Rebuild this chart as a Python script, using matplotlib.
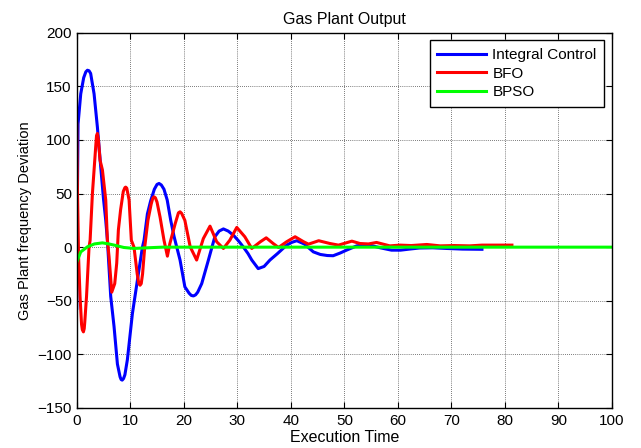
import matplotlib
matplotlib.use("Agg")
import matplotlib.pyplot as plt

plt.rcParams['font.family'] = ['Liberation Sans', 'DejaVu Sans']

# ---- data ----
blue_x = [0, 0.1, 0.25, 0.75, 1.3, 1.7, 2.0, 2.3, 2.6, 3.24, 3.86, 4.48, 5.0, 5.42, 5.73, 6.35, 6.97, 7.6,
          8.1, 8.3, 8.5, 8.75, 9.0, 9.46, 10.4, 11.33, 12.27, 12.58, 13.2, 13.8, 14.5, 15.0, 15.38, 15.8,
          16.3, 16.9, 17.56, 18.18, 19.3, 20.2, 21.0, 21.4, 21.8, 22.2, 22.6, 23.35, 24.6, 25.8, 26.6,
          27.4, 28.3, 29.3, 30.2, 31.1, 32.0, 32.7, 33.9, 35.0, 36.1, 37.5, 39.2, 40.2, 41.1, 42.5, 44.2,
          45.5, 46.8, 47.9, 49.2, 50.4, 52.3, 54.2, 56.7, 58.8, 60.5, 62.0, 64.0, 66.5, 69.0, 72.0, 75.7]
blue_y = [-57, 30, 115, 143, 158, 163.5, 165, 164.5, 162, 143, 112, 75, 45, 25, 6.5, -46, -74, -109,
          -121, -123.5, -124, -122.5, -119, -105, -62, -31, 0, 6.5, 31, 43, 54, 58.5, 59.4, 58,
          54, 44, 25, 10, -12, -37, -43, -45, -45.5, -44.5, -42, -34, -12, 9.7, 15,
          17, 15, 11, 6, 0.3, -6, -12, -20, -18, -12, -6, 1.8, 4.5, 6, 3, -4.4,
          -6.8, -7.8, -8, -5.5, -2.8, 1.2, 2.5, -0.6, -2.8, -2.8, -1.9, -0.8, -0.6, -1.2, -1.8, -2.0]

red_x = [0, 0.15, 0.35, 0.62, 0.9, 1.05, 1.25, 1.4, 1.5, 1.83, 2.3, 2.5, 2.93, 3.55, 3.7, 3.86, 4.05,
         4.36, 4.8, 5.42, 5.73, 6.04, 6.54, 7.1, 7.47, 7.78, 8.2, 8.7, 9.0, 9.15, 9.35, 9.78, 10.2, 10.7,
         11.3, 11.6, 11.83, 12.05, 12.3, 12.7, 13.3, 13.9, 14.2, 14.45, 14.7, 15.0, 15.57, 16.3, 16.94,
         17.4, 18.4, 19.0, 19.3, 19.6, 20.2, 21.2, 22.4, 23.65, 24.9, 26.15, 27.4, 28.6, 29.9, 31.4,
         32.7, 34.3, 35.4, 36.7, 37.7, 39.2, 40.8, 42.4, 43.3, 45.2, 47.3, 48.9, 51.4, 52.9, 54.5,
         56.0, 58.5, 60.4, 62.5, 65.4, 67.9, 70.5, 73.4, 75.7, 81.3]
red_y = [115, 50, -10, -46, -72, -77, -79, -76, -70, -46, 0, 6.5, 50, 94, 104, 106, 100,
         81, 72, 44, 6.5, -9, -42, -34, -15, 16, 35, 52, 55.5, 56, 55, 44, 6.5, 0,
         -25, -34, -35.5, -34, -25, 0, 25, 40, 45.5, 47, 46, 42, 28, 6.5, -8.4,
         3.4, 22, 32, 33, 31.5, 25, 0.3, -12, 8, 19.6, 5, -1.2, 6.5, 18.4, 9.7,
         -1.2, 5, 8.7, 3.4, -0.3, 5, 9.7, 5, 2.8, 6, 3.4, 1.9, 5.6, 3.4, 3.0,
         4.4, 1.2, 1.9, 1.5, 2.5, 1.2, 1.5, 1.2, 1.9, 1.9]

green_x = [0, 0.75, 2.0, 3.3, 4.8, 6.0, 7.0, 8.8, 10.7, 13.2, 16, 100]
green_y = [-14, -4.4, 0.3, 3, 4, 3, 1.9, -0.3, -1.2, -0.6, 0, 0]

labels = ["Integral Control", "BFO", "BPSO"]
x_ticks = list(range(0, 101, 10))
y_ticks = list(range(-150, 201, 50))

fig = plt.figure(figsize=(6.41, 4.48), dpi=100)
ax = fig.add_axes([0.1197, 0.0893, 0.8351, 0.8377])

lw = 2.2
ax.plot(blue_x, blue_y, color="#0000ff", lw=lw, label=labels[0], solid_joinstyle="round")
ax.plot(red_x, red_y, color="#ff0000", lw=lw, label=labels[1], solid_joinstyle="round")
ax.plot(green_x, green_y, color="#00ff00", lw=lw, label=labels[2], solid_joinstyle="round")

ax.set_xlim(0, 100)
ax.set_ylim(-150, 200)
ax.set_xticks(x_ticks)
ax.set_yticks(y_ticks)
ax.grid(True, color="black", linestyle=(0, (1, 2)), linewidth=0.5)
ax.tick_params(direction="in", top=True, right=True, labelsize=11, length=4)
ax.tick_params(axis="x", pad=4.5)
ax.tick_params(axis="y", pad=3.5)
for s in ax.spines.values():
    s.set_linewidth(1.0)
    s.set_color("black")

ax.set_title("Gas Plant Output", fontsize=11.5, pad=6)
ax.set_xlabel("Execution Time", fontsize=11.5, labelpad=1)
ax.set_ylabel("Gas Plant frequency Deviation", fontsize=10.5, labelpad=4)

leg = ax.legend(loc="upper right", fontsize=11, frameon=True, fancybox=False,
                edgecolor="black", handlelength=3.2, labelspacing=0.3,
                borderaxespad=0.5, handletextpad=0.4, borderpad=0.5)
leg.get_frame().set_linewidth(1.0)
leg.get_frame().set_alpha(1)

fig.savefig("out.png", dpi=100)
